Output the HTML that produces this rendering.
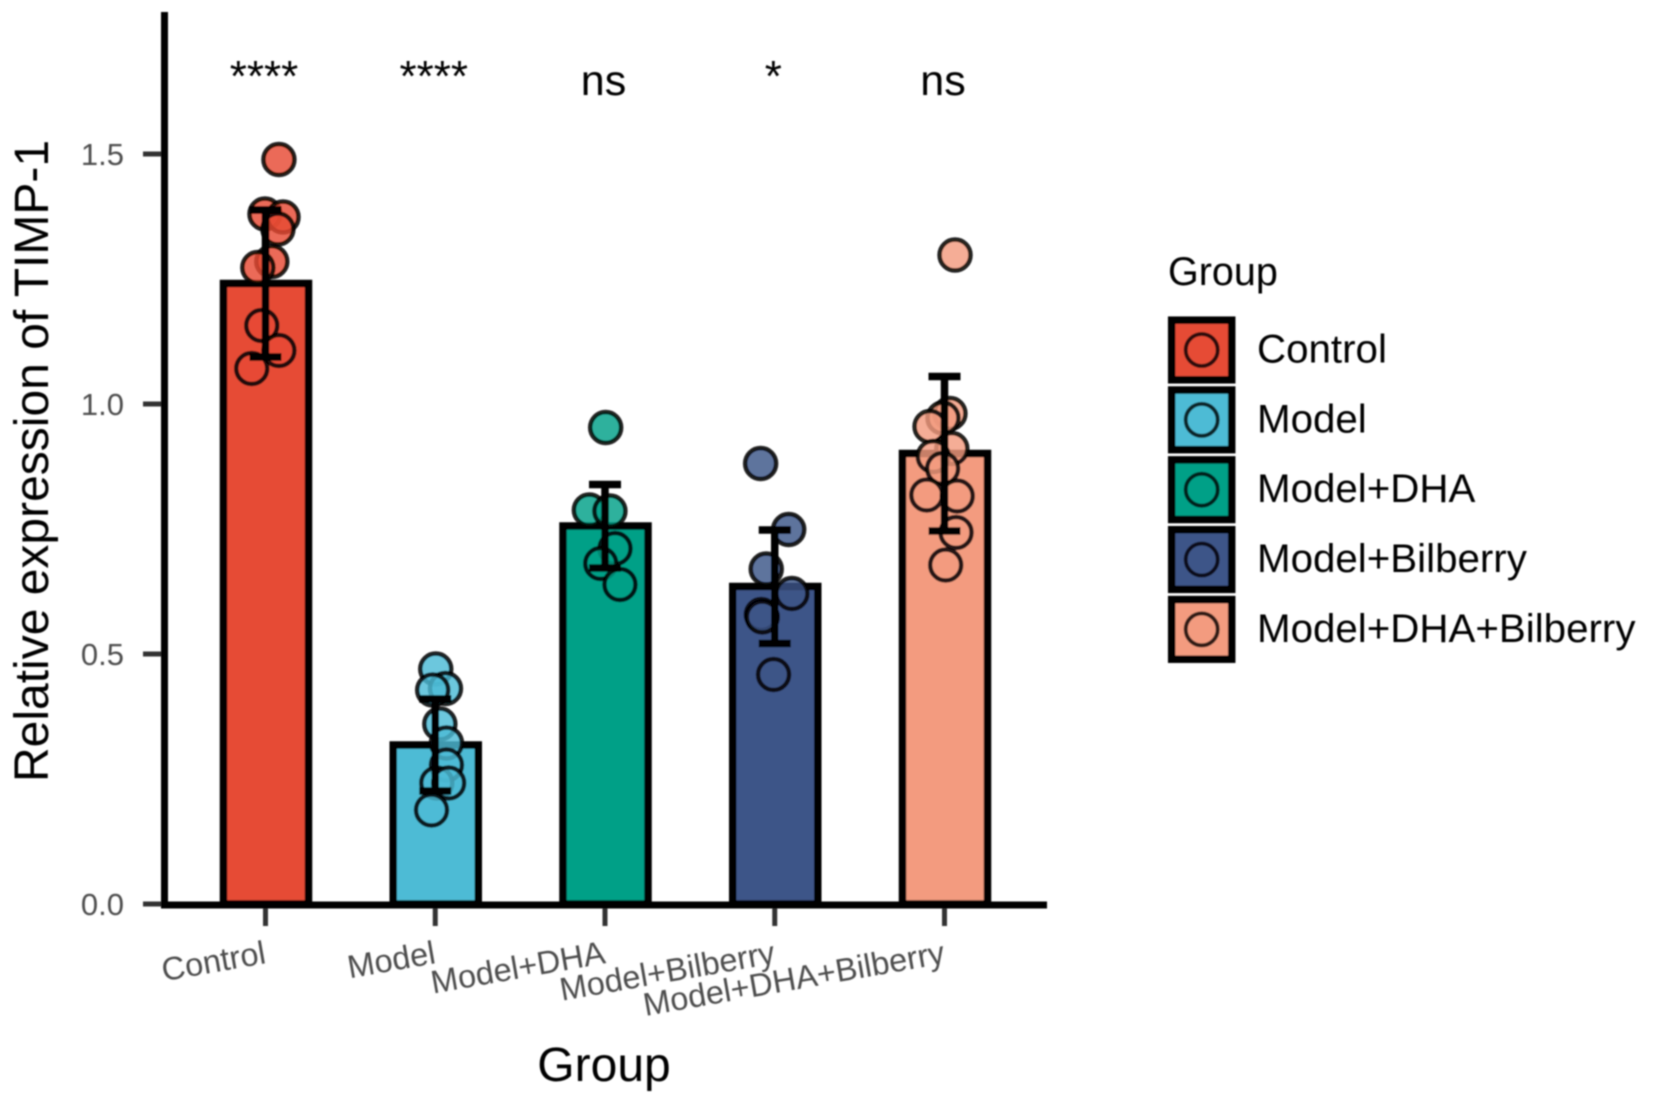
<!DOCTYPE html>
<html lang="en">
<head>
<meta charset="utf-8">
<title>Relative expression of TIMP-1</title>
<style>
html,body{margin:0;padding:0;background:#fff;}
body{width:1656px;height:1107px;overflow:hidden;}
svg{display:block;font-family:"Liberation Sans",Arial,sans-serif;}
</style>
</head>
<body>
<svg id="chart" xmlns="http://www.w3.org/2000/svg" width="1656" height="1107" viewBox="0 0 1656 1107">
  <defs>
    <filter id="soft" x="-5%" y="-5%" width="110%" height="110%"><feGaussianBlur stdDeviation="0.8"/></filter>
  </defs>
  <rect x="0" y="0" width="1656" height="1107" fill="#ffffff"/>
  <g id="plot" filter="url(#soft)">
    <g id="bars"></g>
    <g id="points"></g>
    <g id="errors"></g>
    <g id="axes"></g>
    <g id="sig"></g>
    <g id="legend"></g>
    <text transform="translate(48 461) rotate(-90)" text-anchor="middle" font-size="48" fill="#000">Relative expression of TIMP-1</text>
    <text x="604" y="1081" text-anchor="middle" font-size="48" fill="#000">Group</text>
    <text x="1168" y="285" font-size="39.5" fill="#000">Group</text>
  </g>
</svg>
<script>
const categories = ['Control', 'Model', 'Model+DHA', 'Model+Bilberry', 'Model+DHA+Bilberry'];
const colors = ['#E64B35', '#4DBBD5', '#00A087', '#3C5488', '#F39B7F'];
const means = [1.241, 0.318, 0.756, 0.635, 0.901];
const errTop = [1.388, 0.41, 0.839, 0.748, 1.055];
const errBottom = [1.094, 0.226, 0.672, 0.521, 0.746];
const significance = ['****', '****', 'ns', '*', 'ns'];
const yTicks = [0, 0.5, 1, 1.5];
const yTickLabels = ['0.0', '0.5', '1.0', '1.5'];

const controlValues = [1.489, 1.38, 1.374, 1.35, 1.285, 1.273, 1.157, 1.107, 1.071];
const controlJitter = [0.076, -0.006, 0.1, 0.07, 0.034, -0.048, -0.025, 0.076, -0.084];
const modelValues = [0.47, 0.431, 0.428, 0.36, 0.322, 0.278, 0.242, 0.242, 0.188];
const modelJitter = [0, 0.057, -0.018, 0.024, 0.063, 0.063, 0.006, 0.076, -0.025];
const dhaValues = [0.953, 0.788, 0.786, 0.711, 0.681, 0.639];
const dhaJitter = [0.001, -0.095, 0.026, 0.056, -0.028, 0.085];
const bilberryValues = [0.881, 0.749, 0.67, 0.621, 0.579, 0.574, 0.459];
const bilberryJitter = [-0.086, 0.079, -0.053, 0.098, -0.082, -0.076, -0.01];
const comboValues = [1.298, 0.981, 0.972, 0.955, 0.911, 0.895, 0.871, 0.818, 0.816, 0.743, 0.678];
const comboJitter = [0.059, 0.029, -0.012, -0.088, 0.04, -0.069, -0.014, -0.107, 0.072, 0.065, 0.004];

const pointValues = [controlValues, modelValues, dhaValues, bilberryValues, comboValues];
const pointJitter = [controlJitter, modelJitter, dhaJitter, bilberryJitter, comboJitter];

const NS = 'http://www.w3.org/2000/svg';
function yScale(v) { return 904 - 500 * v; }
function xScale(i) { return 266 + 169.75 * i; }
function xBand(i, offset) { return xScale(i) + 170 * offset; }
function make(tag, attrs, parent) {
  const el = document.createElementNS(NS, tag);
  for (const k in attrs) el.setAttribute(k, attrs[k]);
  parent.appendChild(el);
  return el;
}
const barsG = document.getElementById('bars');
const pointsG = document.getElementById('points');
const errorsG = document.getElementById('errors');
const axesG = document.getElementById('axes');
const sigG = document.getElementById('sig');
const legendG = document.getElementById('legend');
const HALF = 42.5, STROKE = 7.5, CAP = 16, ERR_W = 7.5;

categories.forEach(function (cat, i) {
  const cx = xScale(i);
  const bar = make('rect', {x: cx - HALF, y: yScale(means[i]), width: HALF * 2, height: yScale(0) - yScale(means[i]), fill: colors[i], stroke: '#050505', 'stroke-width': STROKE}, barsG);
  
  

  pointValues[i].forEach(function (v, j) {
    const c = make('circle', {cx: xBand(i, pointJitter[i][j]), cy: yScale(v), r: 15.5, fill: colors[i], 'fill-opacity': 0.82, stroke: '#000', 'stroke-opacity': 0.85, 'stroke-width': 4.5}, pointsG);
    
    
  });

  const ex = cx - 0.5;
  const stem = make('line', {x1: ex, x2: ex, y1: yScale(errTop[i]), y2: yScale(errBottom[i]), stroke: '#000', 'stroke-width': ERR_W}, errorsG);
  
  
  const capTop = make('line', {x1: ex - CAP, x2: ex + CAP, y1: yScale(errTop[i]), y2: yScale(errTop[i]), stroke: '#000', 'stroke-width': ERR_W}, errorsG);
  
  
  const capBottom = make('line', {x1: ex - CAP, x2: ex + CAP, y1: yScale(errBottom[i]), y2: yScale(errBottom[i]), stroke: '#000', 'stroke-width': ERR_W}, errorsG);
  
  

  const tick = make('line', {x1: cx - 0.5, x2: cx - 0.5, y1: 907, y2: 926, stroke: '#333', 'stroke-width': 5}, axesG);
  
  
  const tl = make('text', {transform: 'translate(' + (cx + 1) + ' 963) rotate(-10)', 'text-anchor': 'end', 'font-size': 32.5, fill: '#4d4d4d'}, axesG);
  
  
  tl.textContent = cat;

  const isStar = significance[i].indexOf('*') >= 0;
  const s = make('text', {x: cx - 2, y: isStar ? 91 : 95, 'text-anchor': 'middle', 'font-size': isStar ? 44 : 43, fill: '#000'}, sigG);
  
  
  s.textContent = significance[i];

  const ky = 350 + 69.85 * i;
  const key = make('g', {}, legendG);
  
  
  make('rect', {x: 1171.7, y: ky - 29.8, width: 60, height: 59.6, fill: colors[i], stroke: '#050505', 'stroke-width': 7.5}, key);
  make('circle', {cx: 1201.7, cy: ky, r: 16, fill: colors[i], stroke: '#000', 'stroke-opacity': 0.8, 'stroke-width': 4}, key);
  const lt = make('text', {x: 1257, y: ky + 12.5, 'font-size': 40.3, fill: '#000'}, key);
  lt.textContent = cat;
});

yTicks.forEach(function (v, i) {
  const t = make('line', {x1: 143, x2: 162, y1: yScale(v), y2: yScale(v), stroke: '#333', 'stroke-width': 5}, axesG);
  
  
  const l = make('text', {x: 124, y: yScale(v) + 11, 'text-anchor': 'end', 'font-size': 31, fill: '#4d4d4d'}, axesG);
  
  
  l.textContent = yTickLabels[i];
});

const yAxis = make('line', {x1: 164.5, x2: 164.5, y1: 12, y2: 908, stroke: '#050505', 'stroke-width': 7}, axesG);


const xAxis = make('line', {x1: 161, x2: 1047, y1: 905, y2: 905, stroke: '#050505', 'stroke-width': 7}, axesG);


</script>
</body>
</html>
